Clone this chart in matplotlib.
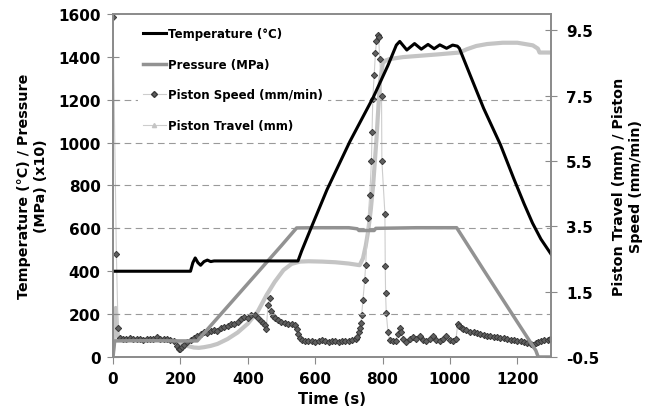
import matplotlib.pyplot as plt
from matplotlib.lines import Line2D

plt.rcParams['font.family'] = ['DejaVu Sans']
plt.rcParams['font.weight'] = 'bold'

# temperature (deg C), left axis
temp_t = [0, 230, 237, 244, 252, 260, 270, 280, 290, 300, 549, 560, 590, 635, 703, 772, 816,
          841, 851, 872, 895, 915, 935, 953, 970, 990, 1008, 1022, 1028, 1060, 1100, 1150, 1190,
          1220, 1245, 1270, 1300]
temp = [400, 400, 440, 462, 440, 428, 445, 452, 445, 448, 448, 495, 610, 780, 1005, 1210, 1360,
        1455, 1472, 1432, 1462, 1436, 1458, 1438, 1456, 1440, 1455, 1450, 1440, 1315, 1160, 990, 830,
        715, 625, 550, 480]

# pressure (MPa x10), left axis
pres_t = [0, 5, 100, 200, 250, 300, 400, 500, 545, 600, 700, 725, 730, 775, 780, 900, 1000, 1020,
          1100, 1200, 1255, 1262, 1300]
pres = [0, 75, 76, 75, 75, 164, 342, 520, 602, 603, 603, 598, 590, 590, 600, 603, 603, 603,
        406, 163, 30, 0, 0]

# piston speed (mm/min), right axis
speed_t = [0, 10, 15, 20, 30, 40, 50, 60, 70, 80, 90, 100, 110, 120, 130, 140, 150, 160, 170, 180,
           190, 195, 200, 205, 210, 220, 230, 240, 250, 260, 270, 280, 290, 300, 310, 320, 330, 340,
           350, 360, 370, 380, 390, 400, 410, 420, 430, 440, 445, 450, 455, 460, 465, 470, 475, 480,
           490, 500, 510, 520, 530, 540, 545, 550, 555, 560, 570, 580, 590, 600, 610, 620, 630, 640,
           650, 660, 670, 680, 690, 700, 710, 720, 725, 730, 733, 736, 738, 742, 747, 750, 757, 762,
           767, 769, 771, 775, 779, 782, 786, 788, 792, 797, 798, 807, 808, 809, 811, 816, 821, 830,
           840, 845, 851, 856, 861, 870, 880, 890, 900, 910, 920, 930, 940, 949, 960, 970, 980, 989,
           1000, 1010, 1018, 1023, 1028, 1035, 1040, 1048, 1060, 1070, 1080, 1090, 1100, 1110, 1120,
           1130, 1140, 1150, 1160, 1170, 1180, 1190, 1200, 1210, 1220, 1230, 1240, 1246, 1255, 1262,
           1270, 1280, 1290, 1296]
speed = [9.9, 2.64, 0.38, 0.08, 0.06, 0.05, 0.07, 0.04, 0.05, 0.06, 0.03, 0.05, 0.04, 0.06, 0.12, 0.05,
         0.04, 0.06, 0.03, 0.0, -0.15, -0.27, -0.25, -0.2, -0.12, -0.05, 0.02, 0.08, 0.15, 0.2, 0.28,
         0.22, 0.3, 0.33, 0.3, 0.38, 0.42, 0.45, 0.5, 0.52, 0.58, 0.66, 0.72, 0.7, 0.8, 0.78, 0.7, 0.6,
         0.55, 0.48, 0.35, 1.1, 1.3, 0.92, 0.75, 0.7, 0.64, 0.58, 0.55, 0.52, 0.5, 0.47, 0.35, 0.2,
         0.08, 0.02, 0.0, -0.02, 0.0, -0.03, -0.01, 0.01, -0.02, -0.04, -0.02, 0.0, -0.03, -0.01,
         -0.02, 0.0, 0.02, 0.05, 0.1, 0.25, 0.4, 0.53, 0.79, 1.25, 1.86, 2.33, 3.74, 4.45, 5.5, 6.4,
         7.4, 8.13, 8.82, 9.18, 9.35, 9.3, 8.62, 7.5, 5.5, 3.89, 2.27, 1.45, 0.84, 0.28, 0.03, -0.02,
         0.0, 0.2, 0.38, 0.25, 0.05, -0.05, 0.05, 0.1, 0.05, 0.13, 0.02, -0.02, 0.05, 0.15, 0.02,
         -0.02, 0.05, 0.15, 0.02, -0.02, 0.05, 0.5, 0.45, 0.4, 0.35, 0.33, 0.28, 0.25, 0.23, 0.2,
         0.17, 0.15, 0.13, 0.12, 0.1, 0.08, 0.07, 0.05, 0.03, 0.02, 0.0, -0.02, -0.05, -0.08, -0.1,
         -0.13, -0.08, -0.03, 0.0, 0.02, 0.03, 0.05]

# piston travel (mm), right axis
travel_t = [0, 4, 8, 12, 16, 30, 60, 100, 150, 180, 200, 220, 240, 255, 270, 290, 310, 340, 370, 400,
            430, 456, 480, 506, 530, 555, 580, 620, 660, 700, 732, 742, 750, 757, 765, 772, 782, 792,
            801, 810, 821, 860, 910, 960, 1028, 1050, 1078, 1110, 1157, 1200, 1246, 1261, 1266, 1300]
travel = [-0.3, 0.4, 1.0, 0.4, 0.05, 0.03, 0.03, 0.03, 0.02, 0.0, -0.08, -0.16, -0.21, -0.22, -0.2,
          -0.16, -0.1, 0.05, 0.25, 0.52, 0.9, 1.4, 1.8, 2.16, 2.35, 2.42, 2.43, 2.42, 2.4, 2.36, 2.31,
          2.52, 2.9, 3.33, 4.0, 4.75, 6.18, 7.9, 8.5, 8.58, 8.62, 8.68, 8.72, 8.76, 8.82, 8.92, 9.02,
          9.08, 9.12, 9.12, 9.04, 8.94, 8.82, 8.82]

grid_levels = [200, 600, 800, 1000, 1200]
frame_col = '#8a8a8a'

fig = plt.figure(figsize=(6.51, 4.14), dpi=100)
ax = fig.add_axes([0.1736, 0.1353, 0.6728, 0.8285])
ax2 = ax.twinx()
ax.set_zorder(2)
ax2.set_zorder(1)
ax.patch.set_visible(False)

for g in grid_levels:
  ax.axhline(g, color='#9a9a9a', lw=0.8, ls=(0, (6, 4)), zorder=0)

ax2.plot(travel_t, travel, color='#c4c4c4', lw=3, solid_capstyle='round')
ax2.plot(speed_t, speed, color='#cdcdcd', lw=0.8, marker='D', ms=3.2, mfc='#606060', mec='#383838', mew=0.7)
ax.plot(pres_t, pres, color='#929292', lw=2.5)
ax.plot(temp_t, temp, color='black', lw=2.2)

ax.set_xlim(0, 1300)
ax.set_ylim(0, 1600)
ax2.set_ylim(-0.5, 10)
ax.set_xticks(range(0, 1201, 200))
ax.set_yticks(range(0, 1601, 200))
ax2.set_yticks([-0.5, 1.5, 3.5, 5.5, 7.5, 9.5])
ax2.set_yticklabels(['-0.5', '1.5', '3.5', '5.5', '7.5', '9.5'])

for a in (ax, ax2):
  for s in a.spines.values():
    s.set_color(frame_col)
    s.set_linewidth(1.2)
ax.tick_params(axis='x', direction='out', length=5, color=frame_col, labelsize=11, pad=5)
ax.tick_params(axis='y', direction='inout', length=8, color=frame_col, labelsize=11, pad=5)
ax2.tick_params(axis='y', direction='inout', length=8, color=frame_col, labelsize=11, pad=7)

ax.set_xlabel('Time (s)', fontsize=10.6, fontweight='bold', labelpad=4)
ax.set_ylabel('Temperature (°C) / Pressure\n(MPa) (x10)', fontsize=10.3, fontweight='bold', linespacing=1.3)
ax.yaxis.set_label_coords(-0.148, 0.5)
ax2.set_ylabel('Piston Travel (mm) / Piston\nSpeed (mm/min)', fontsize=10.3, fontweight='bold',
               rotation=90, linespacing=1.3)
ax2.yaxis.set_label_coords(1.139, 0.5)

handles = [
  Line2D([], [], color='black', lw=2.2),
  Line2D([], [], color='#929292', lw=2.5),
  Line2D([], [], color='#cdcdcd', lw=0.8, marker='D', ms=3, mfc='#606060', mec='#383838'),
  Line2D([], [], color='#cdcdcd', lw=0.8, marker='^', ms=3, mfc='#c4c4c4', mec='#c4c4c4'),
]
labels = ['Temperature (°C)', 'Pressure (MPa)', 'Piston Speed (mm/min)', 'Piston Travel (mm)']
leg = ax.legend(handles, labels, loc='upper left', bbox_to_anchor=(0.057, 0.975), borderaxespad=0,
                fontsize=8.5, labelspacing=1.48, handlelength=1.95, handletextpad=0.2,
                frameon=True, fancybox=False, edgecolor='none', facecolor='white', framealpha=1)

fig.savefig('out.png', dpi=100)
